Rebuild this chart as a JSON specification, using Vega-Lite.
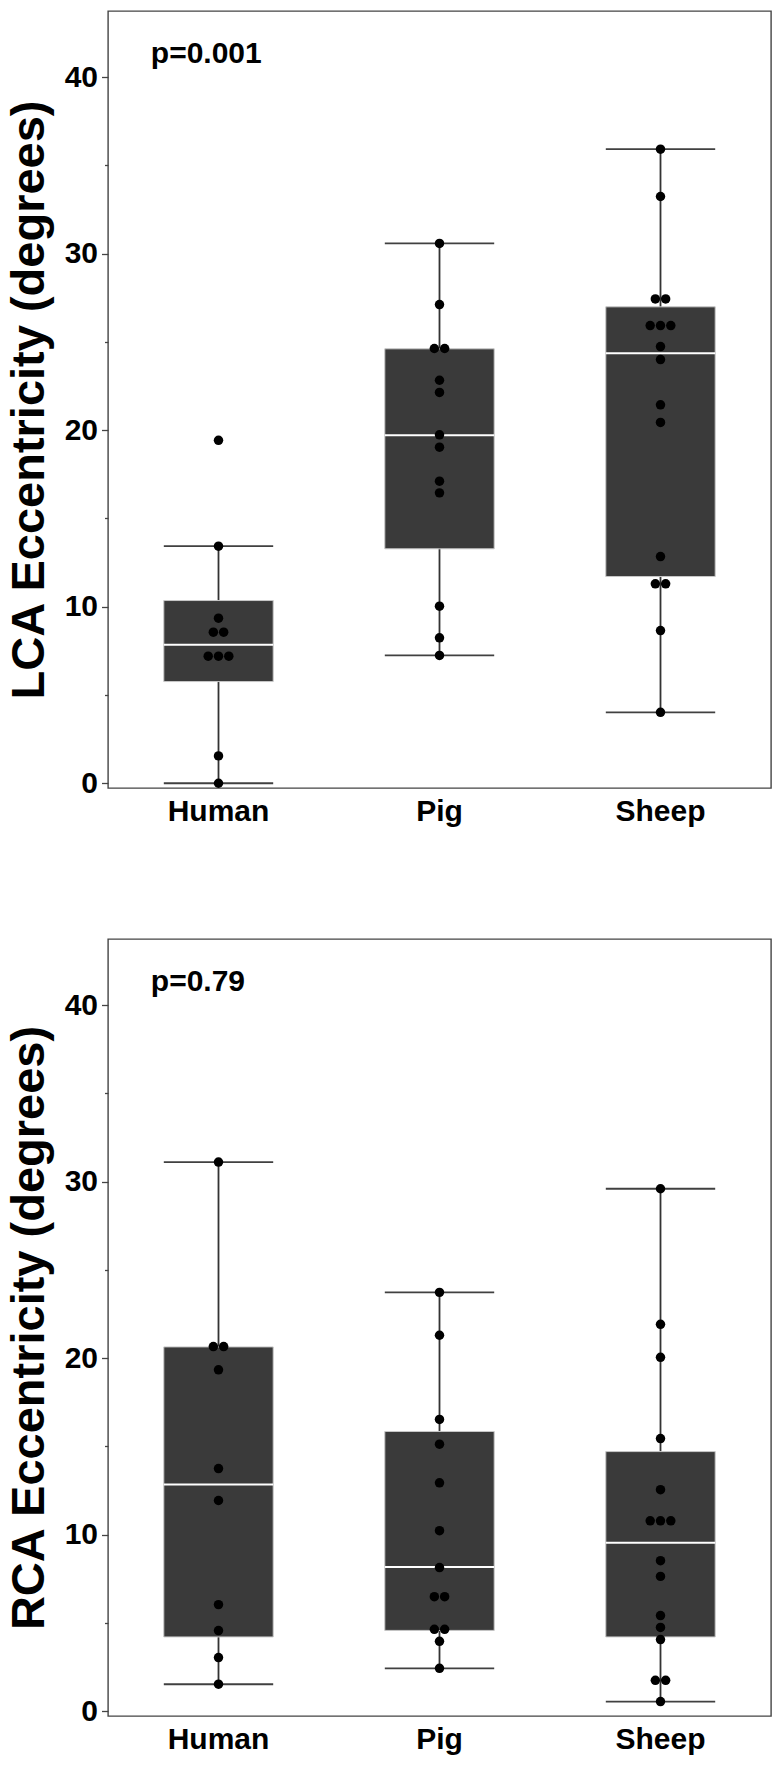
{
  "$schema": "https://vega.github.io/schema/vega-lite/v6.json",
  "padding": {"left": 4, "top": 10, "right": 6, "bottom": 10},
  "background": "white",
  "datasets": {
    "points": [
      {"panel": "LCA", "group": "Human", "value": 0.0},
      {"panel": "LCA", "group": "Human", "value": 1.55},
      {"panel": "LCA", "group": "Human", "value": 7.2},
      {"panel": "LCA", "group": "Human", "value": 7.2},
      {"panel": "LCA", "group": "Human", "value": 7.2},
      {"panel": "LCA", "group": "Human", "value": 8.56},
      {"panel": "LCA", "group": "Human", "value": 8.56},
      {"panel": "LCA", "group": "Human", "value": 9.35},
      {"panel": "LCA", "group": "Human", "value": 13.43},
      {"panel": "LCA", "group": "Human", "value": 19.43},
      {"panel": "LCA", "group": "Pig", "value": 7.24},
      {"panel": "LCA", "group": "Pig", "value": 8.24},
      {"panel": "LCA", "group": "Pig", "value": 10.03},
      {"panel": "LCA", "group": "Pig", "value": 16.45},
      {"panel": "LCA", "group": "Pig", "value": 17.11},
      {"panel": "LCA", "group": "Pig", "value": 19.04},
      {"panel": "LCA", "group": "Pig", "value": 19.74},
      {"panel": "LCA", "group": "Pig", "value": 22.14},
      {"panel": "LCA", "group": "Pig", "value": 22.83},
      {"panel": "LCA", "group": "Pig", "value": 24.63},
      {"panel": "LCA", "group": "Pig", "value": 24.63},
      {"panel": "LCA", "group": "Pig", "value": 27.12},
      {"panel": "LCA", "group": "Pig", "value": 30.58},
      {"panel": "LCA", "group": "Sheep", "value": 4.02},
      {"panel": "LCA", "group": "Sheep", "value": 8.65},
      {"panel": "LCA", "group": "Sheep", "value": 11.3},
      {"panel": "LCA", "group": "Sheep", "value": 11.3},
      {"panel": "LCA", "group": "Sheep", "value": 12.84},
      {"panel": "LCA", "group": "Sheep", "value": 20.44},
      {"panel": "LCA", "group": "Sheep", "value": 21.44},
      {"panel": "LCA", "group": "Sheep", "value": 24.0},
      {"panel": "LCA", "group": "Sheep", "value": 24.74},
      {"panel": "LCA", "group": "Sheep", "value": 25.93},
      {"panel": "LCA", "group": "Sheep", "value": 25.93},
      {"panel": "LCA", "group": "Sheep", "value": 25.93},
      {"panel": "LCA", "group": "Sheep", "value": 27.44},
      {"panel": "LCA", "group": "Sheep", "value": 27.44},
      {"panel": "LCA", "group": "Sheep", "value": 33.24},
      {"panel": "LCA", "group": "Sheep", "value": 35.92},
      {"panel": "RCA", "group": "Human", "value": 1.53},
      {"panel": "RCA", "group": "Human", "value": 3.04},
      {"panel": "RCA", "group": "Human", "value": 4.57},
      {"panel": "RCA", "group": "Human", "value": 6.04},
      {"panel": "RCA", "group": "Human", "value": 11.94},
      {"panel": "RCA", "group": "Human", "value": 13.75},
      {"panel": "RCA", "group": "Human", "value": 19.34},
      {"panel": "RCA", "group": "Human", "value": 20.66},
      {"panel": "RCA", "group": "Human", "value": 20.66},
      {"panel": "RCA", "group": "Human", "value": 31.11},
      {"panel": "RCA", "group": "Pig", "value": 2.43},
      {"panel": "RCA", "group": "Pig", "value": 3.96},
      {"panel": "RCA", "group": "Pig", "value": 4.64},
      {"panel": "RCA", "group": "Pig", "value": 4.64},
      {"panel": "RCA", "group": "Pig", "value": 6.49},
      {"panel": "RCA", "group": "Pig", "value": 6.49},
      {"panel": "RCA", "group": "Pig", "value": 8.14},
      {"panel": "RCA", "group": "Pig", "value": 10.23},
      {"panel": "RCA", "group": "Pig", "value": 12.94},
      {"panel": "RCA", "group": "Pig", "value": 15.13},
      {"panel": "RCA", "group": "Pig", "value": 16.53},
      {"panel": "RCA", "group": "Pig", "value": 21.3},
      {"panel": "RCA", "group": "Pig", "value": 23.73},
      {"panel": "RCA", "group": "Sheep", "value": 0.55},
      {"panel": "RCA", "group": "Sheep", "value": 1.75},
      {"panel": "RCA", "group": "Sheep", "value": 1.75},
      {"panel": "RCA", "group": "Sheep", "value": 4.06},
      {"panel": "RCA", "group": "Sheep", "value": 4.75},
      {"panel": "RCA", "group": "Sheep", "value": 5.42},
      {"panel": "RCA", "group": "Sheep", "value": 7.64},
      {"panel": "RCA", "group": "Sheep", "value": 8.53},
      {"panel": "RCA", "group": "Sheep", "value": 10.79},
      {"panel": "RCA", "group": "Sheep", "value": 10.79},
      {"panel": "RCA", "group": "Sheep", "value": 10.79},
      {"panel": "RCA", "group": "Sheep", "value": 12.55},
      {"panel": "RCA", "group": "Sheep", "value": 15.45},
      {"panel": "RCA", "group": "Sheep", "value": 20.05},
      {"panel": "RCA", "group": "Sheep", "value": 21.92},
      {"panel": "RCA", "group": "Sheep", "value": 29.6}
    ],
    "boxes": [
      {"panel": "LCA", "group": "Human", "lower": 0.0, "q1": 5.76, "median": 7.84, "q3": 10.35, "upper": 13.43},
      {"panel": "LCA", "group": "Pig", "lower": 7.24, "q1": 13.28, "median": 19.72, "q3": 24.61, "upper": 30.58},
      {"panel": "LCA", "group": "Sheep", "lower": 4.02, "q1": 11.71, "median": 24.36, "q3": 26.99, "upper": 35.92},
      {"panel": "RCA", "group": "Human", "lower": 1.53, "q1": 4.21, "median": 12.85, "q3": 20.64, "upper": 31.11},
      {"panel": "RCA", "group": "Pig", "lower": 2.43, "q1": 4.58, "median": 8.17, "q3": 15.85, "upper": 23.73},
      {"panel": "RCA", "group": "Sheep", "lower": 0.55, "q1": 4.21, "median": 9.55, "q3": 14.71, "upper": 29.6}
    ],
    "pvalues": [
      {"panel": "LCA", "group": "Human", "label": "p=0.001", "at": 40.8},
      {"panel": "RCA", "group": "Human", "label": "p=0.79", "at": 40.8}
    ]
  },
  "spacing": 111,
  "vconcat": [
    {
      "width": 663,
      "height": 777,
      "resolve": {"scale": {"xOffset": "independent"}},
      "encoding": {
        "x": {
          "field": "group",
          "type": "nominal",
          "title": null,
          "scale": {"domain": ["Human", "Pig", "Sheep"], "paddingInner": 0, "paddingOuter": 0},
          "axis": {"labelAngle": 0, "ticks": false, "domain": false, "labelFontSize": 30, "labelFontWeight": "bold", "labelColor": "#000000", "labelPadding": 8}
        }
      },
      "layer": [
        {
          "data": {"name": "boxes"},
          "transform": [{"filter": "datum.panel === 'LCA'"}],
          "mark": {"type": "rule", "color": "#333333", "strokeWidth": 1.8},
          "encoding": {
            "y": {
              "field": "lower", "type": "quantitative", "title": "LCA Eccentricity (degrees)",
              "scale": {"domain": [-0.27, 43.75], "nice": false, "zero": false},
              "axis": {
                "values": [0, 5, 10, 15, 20, 25, 30, 35, 40],
                "labelExpr": "datum.value % 10 === 0 ? datum.label : ''",
                "tickSize": {"condition": {"test": "datum.value % 10 === 0", "value": 6.5}, "value": 3.5},
                "grid": false, "domain": false,
                "labelFontSize": 30, "labelFontWeight": "bold", "labelColor": "#000000", "labelPadding": 4,
                "tickColor": "#444444", "tickWidth": 1.3,
                "titleFontSize": 47, "titleFontWeight": "bold", "titleColor": "#000000", "titlePadding": 11
              }
            },
            "y2": {"field": "upper"}
          }
        },
        {
          "data": {"name": "boxes"},
          "transform": [{"filter": "datum.panel === 'LCA'"}, {"fold": ["lower", "upper"], "as": ["end", "cap"]}],
          "mark": {"type": "bar", "width": {"band": 0.495}, "fillOpacity": 0, "stroke": "#404040", "strokeWidth": 1.8},
          "encoding": {
            "y": {"field": "cap", "type": "quantitative", "title": "LCA Eccentricity (degrees)", "scale": {"domain": [-0.27, 43.75], "nice": false, "zero": false}},
            "y2": {"field": "cap"}
          }
        },
        {
          "data": {"name": "boxes"},
          "transform": [{"filter": "datum.panel === 'LCA'"}],
          "mark": {"type": "bar", "width": {"band": 0.495}, "fill": "#3a3a3a", "stroke": "#c8c8c8", "strokeWidth": 1},
          "encoding": {
            "y": {"field": "q1", "type": "quantitative", "title": "LCA Eccentricity (degrees)", "scale": {"domain": [-0.27, 43.75], "nice": false, "zero": false}},
            "y2": {"field": "q3"}
          }
        },
        {
          "data": {"name": "boxes"},
          "transform": [{"filter": "datum.panel === 'LCA'"}],
          "mark": {"type": "bar", "width": {"band": 0.495}, "fillOpacity": 0, "stroke": "#ffffff", "strokeWidth": 2},
          "encoding": {
            "y": {"field": "median", "type": "quantitative", "title": "LCA Eccentricity (degrees)", "scale": {"domain": [-0.27, 43.75], "nice": false, "zero": false}},
            "y2": {"field": "median"}
          }
        },
        {
          "data": {"name": "points"},
          "transform": [
            {"filter": "datum.panel === 'LCA'"},
            {"window": [{"op": "row_number", "as": "i"}, {"op": "count", "as": "n"}], "groupby": ["group", "value"], "frame": [null, null]},
            {"calculate": "datum.i - (datum.n + 1) / 2", "as": "slot"}
          ],
          "mark": {"type": "point", "filled": true, "color": "#000000", "opacity": 1, "size": 90},
          "encoding": {
            "xOffset": {"field": "slot", "type": "quantitative", "scale": {"domain": [-1, 1], "range": [100.2, 120.8]}},
            "y": {"field": "value", "type": "quantitative", "title": "LCA Eccentricity (degrees)", "scale": {"domain": [-0.27, 43.75], "nice": false, "zero": false}}
          }
        },
        {
          "data": {"name": "pvalues"},
          "transform": [{"filter": "datum.panel === 'LCA'"}],
          "mark": {"type": "text", "align": "left", "baseline": "alphabetic", "dx": -67.7, "fontSize": 30, "fontWeight": "bold", "color": "#000000"},
          "encoding": {
            "y": {"field": "at", "type": "quantitative", "title": "LCA Eccentricity (degrees)", "scale": {"domain": [-0.27, 43.75], "nice": false, "zero": false}},
            "text": {"field": "label"}
          }
        }
      ]
    },
    {
      "width": 663,
      "height": 777,
      "resolve": {"scale": {"xOffset": "independent"}},
      "encoding": {
        "x": {
          "field": "group",
          "type": "nominal",
          "title": null,
          "scale": {"domain": ["Human", "Pig", "Sheep"], "paddingInner": 0, "paddingOuter": 0},
          "axis": {"labelAngle": 0, "ticks": false, "domain": false, "labelFontSize": 30, "labelFontWeight": "bold", "labelColor": "#000000", "labelPadding": 8}
        }
      },
      "layer": [
        {
          "data": {"name": "boxes"},
          "transform": [{"filter": "datum.panel === 'RCA'"}],
          "mark": {"type": "rule", "color": "#333333", "strokeWidth": 1.8},
          "encoding": {
            "y": {
              "field": "lower", "type": "quantitative", "title": "RCA Eccentricity (degrees)",
              "scale": {"domain": [-0.27, 43.75], "nice": false, "zero": false},
              "axis": {
                "values": [0, 5, 10, 15, 20, 25, 30, 35, 40],
                "labelExpr": "datum.value % 10 === 0 ? datum.label : ''",
                "tickSize": {"condition": {"test": "datum.value % 10 === 0", "value": 6.5}, "value": 3.5},
                "grid": false, "domain": false,
                "labelFontSize": 30, "labelFontWeight": "bold", "labelColor": "#000000", "labelPadding": 4,
                "tickColor": "#444444", "tickWidth": 1.3,
                "titleFontSize": 47, "titleFontWeight": "bold", "titleColor": "#000000", "titlePadding": 11
              }
            },
            "y2": {"field": "upper"}
          }
        },
        {
          "data": {"name": "boxes"},
          "transform": [{"filter": "datum.panel === 'RCA'"}, {"fold": ["lower", "upper"], "as": ["end", "cap"]}],
          "mark": {"type": "bar", "width": {"band": 0.495}, "fillOpacity": 0, "stroke": "#404040", "strokeWidth": 1.8},
          "encoding": {
            "y": {"field": "cap", "type": "quantitative", "title": "RCA Eccentricity (degrees)", "scale": {"domain": [-0.27, 43.75], "nice": false, "zero": false}},
            "y2": {"field": "cap"}
          }
        },
        {
          "data": {"name": "boxes"},
          "transform": [{"filter": "datum.panel === 'RCA'"}],
          "mark": {"type": "bar", "width": {"band": 0.495}, "fill": "#3a3a3a", "stroke": "#c8c8c8", "strokeWidth": 1},
          "encoding": {
            "y": {"field": "q1", "type": "quantitative", "title": "RCA Eccentricity (degrees)", "scale": {"domain": [-0.27, 43.75], "nice": false, "zero": false}},
            "y2": {"field": "q3"}
          }
        },
        {
          "data": {"name": "boxes"},
          "transform": [{"filter": "datum.panel === 'RCA'"}],
          "mark": {"type": "bar", "width": {"band": 0.495}, "fillOpacity": 0, "stroke": "#ffffff", "strokeWidth": 2},
          "encoding": {
            "y": {"field": "median", "type": "quantitative", "title": "RCA Eccentricity (degrees)", "scale": {"domain": [-0.27, 43.75], "nice": false, "zero": false}},
            "y2": {"field": "median"}
          }
        },
        {
          "data": {"name": "points"},
          "transform": [
            {"filter": "datum.panel === 'RCA'"},
            {"window": [{"op": "row_number", "as": "i"}, {"op": "count", "as": "n"}], "groupby": ["group", "value"], "frame": [null, null]},
            {"calculate": "datum.i - (datum.n + 1) / 2", "as": "slot"}
          ],
          "mark": {"type": "point", "filled": true, "color": "#000000", "opacity": 1, "size": 90},
          "encoding": {
            "xOffset": {"field": "slot", "type": "quantitative", "scale": {"domain": [-1, 1], "range": [100.2, 120.8]}},
            "y": {"field": "value", "type": "quantitative", "title": "RCA Eccentricity (degrees)", "scale": {"domain": [-0.27, 43.75], "nice": false, "zero": false}}
          }
        },
        {
          "data": {"name": "pvalues"},
          "transform": [{"filter": "datum.panel === 'RCA'"}],
          "mark": {"type": "text", "align": "left", "baseline": "alphabetic", "dx": -67.7, "fontSize": 30, "fontWeight": "bold", "color": "#000000"},
          "encoding": {
            "y": {"field": "at", "type": "quantitative", "title": "RCA Eccentricity (degrees)", "scale": {"domain": [-0.27, 43.75], "nice": false, "zero": false}},
            "text": {"field": "label"}
          }
        }
      ]
    }
  ],
  "config": {
    "font": "Liberation Sans",
    "view": {"stroke": "#444444", "strokeWidth": 1.4},
    "axis": {"labelFont": "Liberation Sans", "titleFont": "Liberation Sans"},
    "text": {"font": "Liberation Sans"}
  }
}
